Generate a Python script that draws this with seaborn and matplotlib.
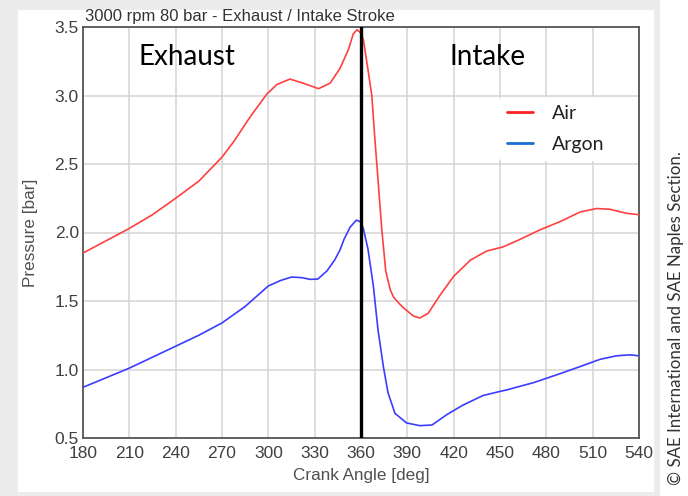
import matplotlib
matplotlib.use("Agg")
import matplotlib.pyplot as plt
from matplotlib.lines import Line2D
from matplotlib.patches import Rectangle
import pandas as pd
import seaborn as sns

# Crank angle [deg] and pressure [bar] for each working gas
angle_air = [180, 195, 210, 225, 240, 255, 270, 278, 288, 292.5, 299, 305.5, 314, 322.5,
             332.5, 340, 346.5, 352, 355, 357.5, 359.5, 361.5, 364.5, 367, 369, 371, 373.4,
             376, 379, 381, 384, 387.5, 394, 398, 403.5, 411, 420, 431, 441.5, 452, 463, 476,
             489, 502, 512.5, 521, 532, 540]
p_air = [1.85, 1.94, 2.03, 2.13, 2.25, 2.375, 2.55, 2.67, 2.84, 2.91, 3.01, 3.08, 3.12, 3.09,
         3.05, 3.09, 3.20, 3.34, 3.45, 3.48, 3.46, 3.41, 3.19, 3.00, 2.68, 2.39, 2.03,
         1.72, 1.58, 1.53, 1.49, 1.45, 1.39, 1.376, 1.41, 1.54, 1.68, 1.80, 1.865, 1.895, 1.95, 2.02,
         2.08, 2.15, 2.175, 2.17, 2.14, 2.13]

angle_argon = [180, 195, 210, 225, 240, 255, 270, 285, 293, 300, 308, 315, 322, 327, 332,
               338, 343, 346.5, 349, 353, 357, 359.5, 361.5, 364.5, 368, 371, 374.5, 377.5,
               382, 389.5, 398, 406, 415.5, 426, 439, 450, 454, 472, 489, 504, 515, 525.5,
               534, 540]
p_argon = [0.87, 0.94, 1.01, 1.09, 1.17, 1.25, 1.34, 1.46, 1.54, 1.61, 1.65, 1.675, 1.67, 1.658,
           1.66, 1.72, 1.80, 1.875, 1.95, 2.04, 2.09, 2.08, 2.03, 1.88, 1.61, 1.29, 1.02, 0.83,
           0.68, 0.61, 0.59, 0.595, 0.67, 0.74, 0.81, 0.84, 0.85, 0.905, 0.97, 1.03, 1.075, 1.10,
           1.107, 1.10]

series_names = ["Air", "Argon"]
x_ticks = list(range(180, 541, 30))
y_ticks = [0.5, 1.0, 1.5, 2.0, 2.5, 3.0, 3.5]
tdc_angle = 360

df = pd.concat([
    pd.DataFrame({"angle": angle_air, "pressure": p_air, "gas": series_names[0]}),
    pd.DataFrame({"angle": angle_argon, "pressure": p_argon, "gas": series_names[1]}),
], ignore_index=True)

sns.set_style("white")
plt.rcParams["font.family"] = ["Liberation Sans", "DejaVu Sans"]

W, H = 688, 496
fig = plt.figure(figsize=(W / 100, H / 100), dpi=100, facecolor="white")

# soft grey frame behind the white panel
fig.patches.append(Rectangle((0, 0), 660 / W, 1, transform=fig.transFigure,
                             facecolor="#ececec", edgecolor="none", zorder=-3))
fig.patches.append(Rectangle((18 / W, 4 / H), (654 - 18) / W, (486 - 4) / H,
                             transform=fig.transFigure, facecolor="white",
                             edgecolor="none", zorder=-2))

ax = fig.add_axes([83 / W, 58 / H, (639 - 83) / W, (438 - 27) / H])
ax.set_facecolor("white")

palette = {"Air": "#ff4040", "Argon": "#3c3cff"}
sns.lineplot(data=df, x="angle", y="pressure", hue="gas", palette=palette,
             linewidth=1.2, legend=False, ax=ax, sort=False, zorder=3)

ax.axvline(tdc_angle, color="black", linewidth=2.4, zorder=4)

ax.set_xlim(180, 540)
ax.set_ylim(0.5, 3.5)
ax.set_xticks(x_ticks)
ax.set_yticks(y_ticks)
ax.set_yticklabels([f"{v:.1f}" for v in y_ticks])
ax.grid(True, color="#d4d4d4", linewidth=1.1, zorder=0)
ax.set_axisbelow(True)
for s in ax.spines.values():
    s.set_color("#555555")
    s.set_linewidth(1.3)
ax.tick_params(axis="both", direction="in", length=7, width=1.2, color="#555555",
               labelsize=12.5, labelcolor="#404040", pad=3)
ax.tick_params(axis="x", length=0, pad=6)

ax.set_xlabel("Crank Angle [deg]", fontsize=12.3, color="#505050", labelpad=5)
ax.set_ylabel("Pressure [bar]", fontsize=12.3, color="#505050", labelpad=12)

fig.text(85 / W, 1 - 17 / H, "3000 rpm 80 bar - Exhaust / Intake Stroke",
         fontsize=12, color="#333333", ha="left", va="center")

ax.text(247, 3.28, "Exhaust", fontsize=20, family=["Lato", "DejaVu Sans"],
        color="black", ha="center", va="center", zorder=5)
ax.text(442, 3.28, "Intake", fontsize=20, family=["Lato", "DejaVu Sans"],
        color="black", ha="center", va="center", zorder=5)

handles = [Line2D([0], [0], color="#ff2020", linewidth=2.0),
           Line2D([0], [0], color="#1a6fd0", linewidth=2.0)]
leg = ax.legend(handles, series_names, loc="upper left", bbox_to_anchor=(0.748, 0.83),
                borderaxespad=0, borderpad=0.4,
                frameon=True, facecolor="white", edgecolor="none", framealpha=1,
                prop={"family": ["Lato", "DejaVu Sans"], "size": 14},
                handlelength=1.34, handletextpad=1.0, labelspacing=0.75)
leg.set_zorder(6)
for t in leg.get_texts():
    t.set_color("#222222")

fig.text(676 / W, 1 - 318 / H, "© SAE International and SAE Naples Section.",
         rotation=90, fontsize=12.2, family=["Lato", "DejaVu Sans"], color="#333333",
         ha="center", va="center")

fig.savefig("out.png", dpi=100, facecolor=fig.get_facecolor())
